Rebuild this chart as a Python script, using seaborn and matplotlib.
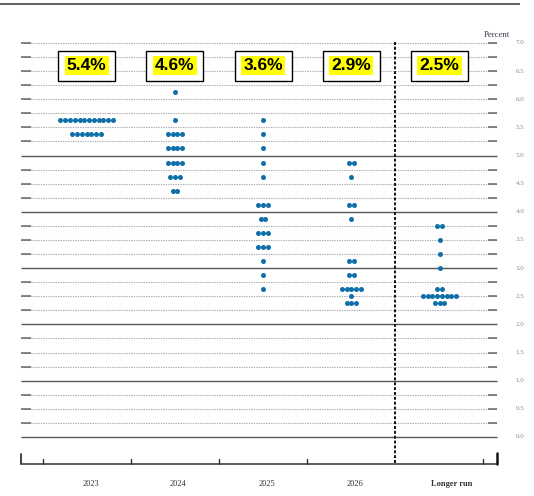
import numpy as np
import pandas as pd
import matplotlib
matplotlib.use("Agg")
import matplotlib.pyplot as plt
import seaborn as sns
from matplotlib.patches import Rectangle

sns.set_theme(style="white")

# ---------------- data ----------------
categories = ["2023", "2024", "2025", "2026", "Longer run"]
medians = ["5.4%", "4.6%", "3.6%", "2.9%", "2.5%"]

levels_2023 = [5.625, 5.375]
counts_2023 = [12, 7]
levels_2024 = [6.125, 5.625, 5.375, 5.125, 4.875, 4.625, 4.375]
counts_2024 = [1, 1, 4, 4, 4, 3, 2]
levels_2025 = [5.625, 5.375, 5.125, 4.875, 4.625, 4.125, 3.875, 3.625, 3.375, 3.125, 2.875, 2.625]
counts_2025 = [1, 1, 1, 1, 1, 3, 2, 3, 3, 1, 1, 1]
levels_2026 = [4.875, 4.625, 4.125, 3.875, 3.125, 2.875, 2.625, 2.5, 2.375]
counts_2026 = [2, 1, 2, 1, 2, 2, 5, 1, 3]
levels_lr = [3.75, 3.5, 3.25, 3.0, 2.625, 2.5, 2.375]
counts_lr = [2, 1, 1, 1, 2, 8, 3]

axis_labels = [0.0, 0.5, 1.0, 1.5, 2.0, 2.5, 3.0, 3.5, 4.0, 4.5, 5.0, 5.5, 6.0, 6.5, 7.0]

all_levels = [levels_2023, levels_2024, levels_2025, levels_2026, levels_lr]
all_counts = [counts_2023, counts_2024, counts_2025, counts_2026, counts_lr]

# ---------------- layout helpers (pixel -> data) ----------------
W, H = 534, 496
CX0, CDX = 86.7, 88.2        # px of first category centre, px per category
Y0, DY = 437.0, 56.3         # px of 0.0, px per 1 percentage point


def px_x(p):
    return (p - CX0) / CDX


def px_y(p):
    return (Y0 - p) / DY


dot_step = 4.77 / CDX

rows = []
for ci, (lv, ct) in enumerate(zip(all_levels, all_counts)):
    for level, n in zip(lv, ct):
        for j in range(n):
            rows.append({"cat": categories[ci],
                         "x": ci + (j - (n - 1) / 2) * dot_step,
                         "rate": level})
df = pd.DataFrame(rows)

fig = plt.figure(figsize=(W / 100, H / 100), dpi=100)
ax = fig.add_axes([0, 0, 1, 1])
ax.set_xlim(px_x(0), px_x(W))
ax.set_ylim(px_y(H), px_y(0))
ax.axis("off")

serif = ["Liberation Serif", "DejaVu Serif"]

# grid lines
xl, xr = px_x(21), px_x(497)
for k in range(0, 29):
    v = k * 0.25
    if k % 4 == 0 and v <= 5:
        ax.plot([xl, xr], [v, v], color="#555555", lw=1.0, zorder=1,
                solid_capstyle="butt")
    else:
        ax.plot([xl, xr], [v, v], color="#aaaaaa", lw=0.8, zorder=1,
                linestyle=(0, (1.2, 1.0)))
        ax.plot([px_x(21), px_x(31.5)], [v, v], color="#666666", lw=1.1,
                zorder=1, solid_capstyle="butt")
        ax.plot([px_x(487.5), px_x(497)], [v, v], color="#666666", lw=1.1,
                zorder=1, solid_capstyle="butt")

# right-hand percent labels
for v in axis_labels:
    ax.text(px_x(520), v, f"{v:.1f}", ha="center", va="center",
            fontsize=5, color="#8a8a8a", family=serif)
ax.text(px_x(497), px_y(35), "Percent", ha="center", va="center",
        fontsize=6.3, color="#3a3a4a", family=serif)

# top rule
ax.plot([px_x(0), px_x(520)], [px_y(4), px_y(4)], color="#555555", lw=1.3,
        solid_capstyle="butt")

# bottom axis
yb = px_y(464)
ax.plot([px_x(21), px_x(497)], [yb, yb], color="#333333", lw=1.1,
        solid_capstyle="butt")
ax.plot([px_x(21), px_x(21)], [yb, px_y(454)], color="#333333", lw=1.3)
ax.plot([px_x(497), px_x(497)], [yb, px_y(453)], color="#111111", lw=1.8)
for p in [42.7, 130.7, 219, 307.3, 483]:
    ax.plot([px_x(p), px_x(p)], [yb, px_y(459)], color="#333333", lw=1.0)

# dashed separator
ax.plot([px_x(394.7), px_x(394.7)], [px_y(42), yb], color="#111111", lw=1.4,
        linestyle=(0, (1.5, 1.0)), zorder=2)

# category labels
label_px = [90.7, 178.3, 266.5, 355, 452]
for i, (c, p) in enumerate(zip(categories, label_px)):
    ax.text(px_x(p), px_y(484), c, ha="center", va="center", fontsize=6,
            color="#333333", family=serif,
            fontweight="bold" if c == "Longer run" else "normal")

# dots
sns.scatterplot(data=df, x="x", y="rate", ax=ax, color="#0f6fa8", s=13,
                linewidth=0, legend=False, zorder=3)

# median boxes
bw, bh = 57 / CDX, 30 / DY
bc = px_y(65.5)
for i, m in enumerate(medians):
    ax.add_patch(Rectangle((i - bw / 2, bc - bh / 2), bw, bh, facecolor="white",
                           edgecolor="black", lw=1.0, zorder=4))
    ax.text(i, bc, m, ha="center", va="center", fontsize=12.5,
            fontweight="bold",
            family=["Liberation Sans", "DejaVu Sans"], color="black",
            bbox=dict(boxstyle="square,pad=0.12", facecolor="#ffff00",
                      edgecolor="none"), zorder=5)

fig.savefig("out.png", dpi=100)
